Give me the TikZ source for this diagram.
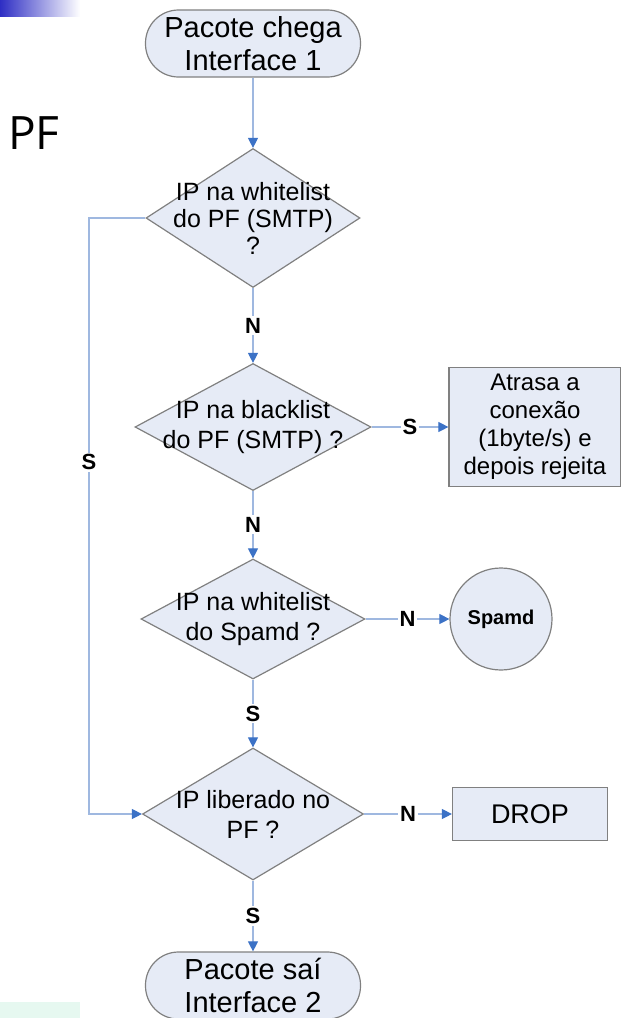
\documentclass[tikz,border=0pt]{standalone}
\usepackage{fontspec}
\setmainfont{Liberation Sans}
\newfontfamily\pffont{Open Sans}
\usetikzlibrary{arrows.meta,shapes.geometric}

\definecolor{caixa}{HTML}{E6EBF6}
\definecolor{borda}{HTML}{808080}
\definecolor{linha}{HTML}{9FB8E0}
\definecolor{seta}{HTML}{3C72C6}
\definecolor{faixa}{HTML}{2E2EC4}
\definecolor{menta}{HTML}{E6F8F0}

\begin{document}
\begin{tikzpicture}[x=1pt,y=-1pt,
  terminal/.style={draw=borda,fill=caixa,line width=1.2pt,rounded corners=33pt,
    minimum width=215pt,minimum height=67pt,inner sep=0pt,align=center,
    font=\fontsize{29}{33}\selectfont},
  decisao/.style={diamond,draw=borda,fill=caixa,line width=1.2pt,inner sep=0pt},
  dtexto/.style={align=center,inner sep=0pt,font=\fontsize{25}{30}\selectfont},
  caixaret/.style={draw=borda,fill=caixa,line width=1.2pt,inner sep=0pt,align=center},
  fluxo/.style={draw=linha,line width=1.1pt,-{Triangle[width=10pt,length=10pt,color=seta]}},
  rotulo/.style={fill=white,inner sep=2pt,font=\fontsize{22}{22}\selectfont\bfseries}]
  \useasboundingbox (0,0) rectangle (621,1018);

  % enfeites do slide
  \shade[left color=faixa,right color=white] (0,0) rectangle (80,16);
  \fill[menta] (0,1002) rectangle (80,1018);
  \node[font=\pffont\fontsize{46}{46}\selectfont] (pf) at (34,133) {PF};

  % nós
  \node[terminal] (inicio) at (253,43.5) {Pacote chega\\Interface 1};
  \node[decisao,minimum width=214pt,minimum height=139pt] (wlpf) at (253,218) {};
  \node[dtexto,font=\fontsize{25}{27}\selectfont] (wlpft) at (wlpf) {IP na whitelist\\do PF (SMTP)\\?};
  \node[decisao,minimum width=236pt,minimum height=127pt] (blpf) at (253,427) {};
  \node[dtexto] (blpft) at (blpf) {IP na blacklist\\do PF (SMTP) ?};
  \node[decisao,minimum width=224pt,minimum height=120pt] (wlsp) at (253,619) {};
  \node[dtexto] (wlspt) at (wlsp) {IP na whitelist\\do Spamd ?};
  \node[decisao,minimum width=221pt,minimum height=132pt] (lib) at (253,814) {};
  \node[dtexto] (libt) at (lib) {IP liberado no\\PF ?};
  \node[terminal] (fim) at (253,985.5) {Pacote saí\\Interface 2};

  \node[caixaret,minimum width=172pt,minimum height=119pt,
    font=\fontsize{24}{28}\selectfont] (atrasa) at (535,427) {Atrasa a\\conexão\\(1byte/s) e\\depois rejeita};
  \node[circle,draw=borda,fill=caixa,line width=1.2pt,minimum size=102pt,inner sep=0pt,
    font=\fontsize{20}{20}\selectfont\bfseries] (spamd) at (501,619) {Spamd};
  \node[caixaret,minimum width=155pt,minimum height=53pt,
    font=\fontsize{27}{27}\selectfont] (drop) at (530,814) {DROP};

  % setas
  \draw[fluxo] (inicio.south) -- (wlpf.north);
  \draw[fluxo] (wlpf.south) -- node[rotulo] {N} (blpf.north);
  \draw[fluxo] (blpf.south) -- node[rotulo] {N} (wlsp.north);
  \draw[fluxo] (wlsp.south) -- node[rotulo] {S} (lib.north);
  \draw[fluxo] (lib.south) -- node[rotulo] {S} (fim.north);
  \draw[fluxo] (blpf.east) -- node[rotulo] {S} (atrasa.west);
  \draw[fluxo] (wlsp.east) -- node[rotulo] {N} (spamd.west);
  \draw[fluxo] (lib.east) -- node[rotulo] {N} (drop.west);
  \coordinate (volta) at (89,218);
  \draw[fluxo] (wlpf.west) -- (volta) |- node[rotulo,pos=0.205] {S} (lib.west);
\end{tikzpicture}
\end{document}
